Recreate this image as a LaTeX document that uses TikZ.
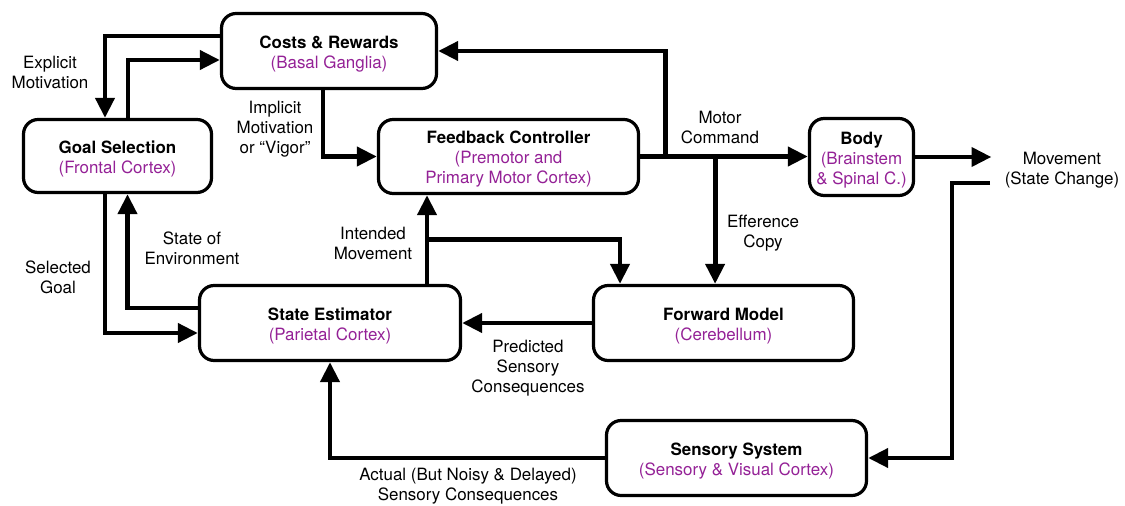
\documentclass[tikz,border=0pt]{standalone}
\usepackage{fontspec}
\setmainfont{TeX Gyre Heros}
\usetikzlibrary{arrows.meta,calc}
\definecolor{region}{RGB}{148,33,150}
\newcommand{\area}[1]{\textcolor{region}{#1}}
% block title; the strut lowers the text block a little inside its frame
\newcommand{\hd}[1]{\rule{0pt}{14pt}\textbf{#1}}
% first line of a connector label
\newcommand{\lf}{\rule{0pt}{11pt}}
\begin{document}
\begin{tikzpicture}[x=0.75pt,y=-0.75pt,
  font=\fontsize{12.7}{15}\selectfont,
  box/.style={draw, line width=2.4pt, rounded corners=11pt, align=center, inner sep=0pt},
  lbl/.style={align=center, inner sep=0pt},
  wire/.style={line width=3.6pt, line join=miter},
  conn/.style={wire, -{Triangle[length=15pt,width=14pt]}}]
\useasboundingbox (0,0) rectangle (1125,506);

% blocks
\node[box, minimum width={215*0.75pt}, minimum height={75*0.75pt}] (costs) at (329,51)
  {\hd{Costs \& Rewards}\\\area{(Basal Ganglia)}};
\node[box, minimum width={188*0.75pt}, minimum height={73*0.75pt}] (goal) at (117.5,156)
  {\hd{Goal Selection}\\\area{(Frontal Cortex)}};
\node[box, minimum width={260*0.75pt}, minimum height={74*0.75pt}] (fc) at (508.5,156.5)
  {\hd{Feedback Controller}\\\area{(Premotor and}\\\area{Primary Motor Cortex)}};
\node[box, minimum width={104*0.75pt}, minimum height={77*0.75pt}] (body) at (861.5,157)
  {\hd{Body}\\\area{(Brainstem}\\\area{\& Spinal C.)}};
\node[box, minimum width={261*0.75pt}, minimum height={75*0.75pt}] (se) at (330,323)
  {\hd{State Estimator}\\\area{(Parietal Cortex)}};
\node[box, minimum width={260*0.75pt}, minimum height={75*0.75pt}] (fm) at (723.5,323)
  {\hd{Forward Model}\\\area{(Cerebellum)}};
\node[box, minimum width={260*0.75pt}, minimum height={75*0.75pt}] (ss) at (736.5,458)
  {\hd{Sensory System}\\\area{(Sensory \& Visual Cortex)}};

% free-standing output
\node[lbl] (mv) at (1062,169) {\lf Movement\\(State Change)};

% connector labels
\node[lbl] (lexp) at (50,71) {\lf Explicit\\Motivation};
\node[lbl] (limp) at (275,128) {\lf Implicit\\Motivation\\or “Vigor”};
\node[lbl] (lmc) at (720,126) {\lf Motor\\Command};
\node[lbl] (lec) at (763,232) {\lf Efference\\Copy};
\node[lbl] (lsoe) at (192,247) {\lf State of\\Environment};
\node[lbl] (lsg) at (58,276) {\lf Selected\\Goal};
\node[lbl] (lim) at (373,242) {\lf Intended\\Movement};
\node[lbl] (lpsc) at (528,367) {\lf Predicted\\Sensory\\Consequences};
\node[lbl] (lasc) at (468,485) {\lf Actual (But Noisy \& Delayed)\\Sensory Consequences};

% junction points
\coordinate (mcup) at ($(fc.east)+(25,0)$);
\coordinate (effc) at ($(fc.east)+(75,0)$);
\coordinate (imv) at ($(se.north)+(97,0)$);
\coordinate (imb) at ($(se.north)+(97,-44)$);
\coordinate (ret) at (990,183);

% motivation loops
\draw[conn] ($(costs.west)+(0,-15)$) -| ($(goal.north)+(-12.5,0)$);
\draw[conn] ($(goal.north)+(10.5,0)$) |- ($(costs.west)+(0,9)$);
\draw[conn] ($(costs.south)+(-6,0)$) |- (fc.west);

% motor command and its copies
\draw[conn] (fc.east) -- (fc.east -| body.west);
\draw[conn] (mcup) |- (costs.east);
\draw[conn] (effc) -- (effc |- fm.north);
\draw[conn] (body.east) -- ($(mv.west |- body.east)+(-13,0)$);

% sensory feedback
\draw[conn] (ret) -- ++(-38,0) |- (ss.east);
\draw[conn] (ss.west) -| (se.south);
\draw[conn] (fm.west) -- (se.east);

% state estimate paths
\draw[conn] (imv) -- (imv |- fc.south);
\draw[conn] (imb) -| ($(fm.north)+(-103.5,0)$);
\draw[conn] ($(goal.south)+(-12.5,0)$) |- ($(se.west)+(0,10)$);
\draw[conn] ($(se.west)+(0,-15)$) -| ($(goal.south)+(10,0)$);
\end{tikzpicture}
\end{document}
